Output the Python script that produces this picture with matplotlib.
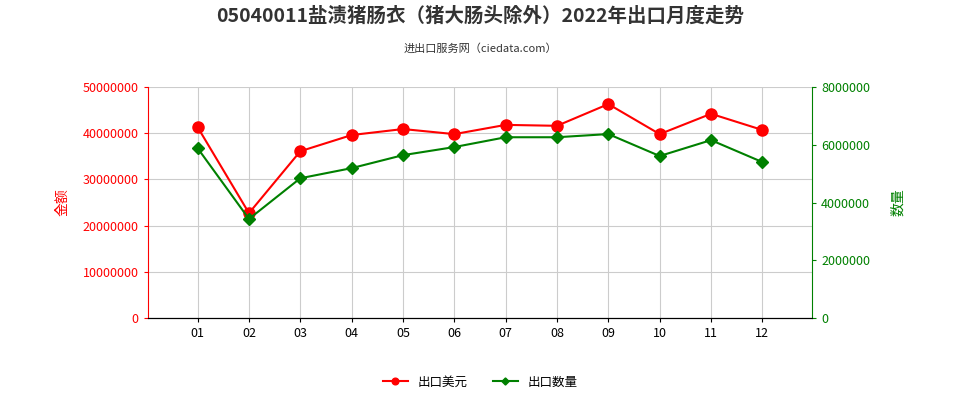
import matplotlib
matplotlib.use('Agg')
import matplotlib.pyplot as plt
from matplotlib import font_manager

cjk = [f.name for f in font_manager.fontManager.ttflist if 'CJK' in f.name]
fam = 'Noto Sans CJK SC' if 'Noto Sans CJK SC' in cjk else (cjk[0] if cjk else 'DejaVu Sans')
plt.rcParams['font.family'] = [fam, 'DejaVu Sans']
plt.rcParams['axes.unicode_minus'] = False

months = ['01', '02', '03', '04', '05', '06', '07', '08', '09', '10', '11', '12']
amount = [41300000, 22700000, 36100000, 39600000, 40900000, 39800000,
          41800000, 41600000, 46300000, 39800000, 44200000, 40700000]
quantity = [5880000, 3430000, 4840000, 5190000, 5640000, 5920000,
            6260000, 6260000, 6370000, 5610000, 6160000, 5400000]

x = list(range(1, len(months) + 1))

fig = plt.figure(figsize=(9.6, 4), dpi=100)
ax = fig.add_axes([0.154, 0.205, 0.692, 0.5775])
ax2 = ax.twinx()

l1, = ax.plot(x, amount, color='#ff0000', marker='o', ms=8, lw=1.5, label='出口美元')
l2, = ax2.plot(x, quantity, color='#008000', marker='D', ms=6, lw=1.5, label='出口数量')

ax.set_xlim(0.03, 12.97)
ax.set_ylim(0, 50000000)
ax2.set_ylim(0, 8000000)
ax.set_xticks(x)
ax.set_xticklabels(months)
ax.set_yticks(range(0, 50000001, 10000000))
ax.set_yticklabels([str(v) for v in range(0, 50000001, 10000000)])
ax2.set_yticks(range(0, 8000001, 2000000))
ax2.set_yticklabels([str(v) for v in range(0, 8000001, 2000000)])
ax.grid(True, color='#cccccc', lw=0.8)
ax.tick_params(axis='y', colors='#ff0000', labelsize=9, length=3)
ax2.tick_params(axis='y', colors='#008000', labelsize=9, length=3)
ax.tick_params(axis='x', labelsize=9, length=3)
ax.spines['top'].set_visible(False)
ax2.spines['top'].set_visible(False)
ax.spines['left'].set_color('#ff0000')
ax2.spines['left'].set_visible(False)
ax2.spines['right'].set_color('#008000')
ax.spines['right'].set_visible(False)

ax.set_ylabel('金额', color='#ff0000', fontsize=10, labelpad=10)
ax2.set_ylabel('数量', color='#008000', fontsize=10, labelpad=15)

fig.text(0.5, 0.945, '05040011盐渍猪肠衣（猪大肠头除外）2022年出口月度走势', ha='center',
         fontsize=14, fontweight='bold', color='#333333')
fig.text(0.5, 0.87, '进出口服务网（ciedata.com）', ha='center', fontsize=8, color='#333333')
fig.legend(handles=[l1, l2], loc='lower center', bbox_to_anchor=(0.5, 0.0), ncol=2,
           frameon=False, fontsize=9, markerscale=0.6)

fig.savefig('out.png')
